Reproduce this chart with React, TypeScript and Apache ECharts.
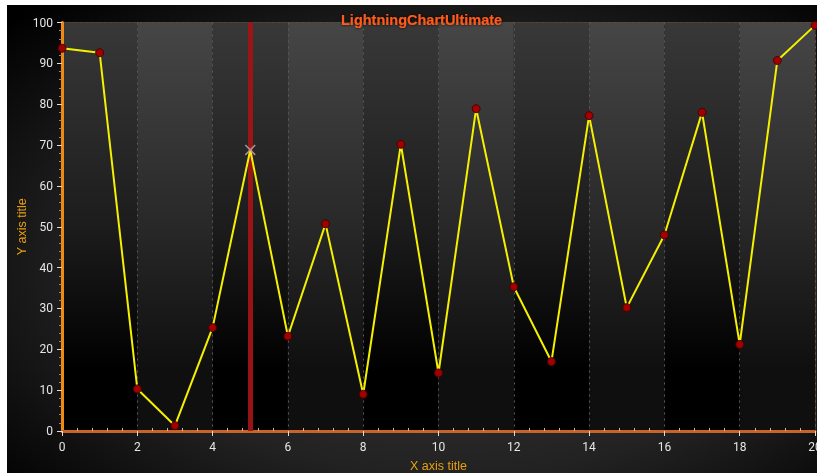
import React, { useEffect, useRef } from "react";
import * as echarts from "echarts";

const titleText = "LightningChartUltimate";
const xAxisTitle = "X axis title";
const yAxisTitle = "Y axis title";
const xValues = [0, 1, 2, 3, 4, 5, 6, 7, 8, 9, 10, 11, 12, 13, 14, 15, 16, 17, 18, 19, 20];
const yValues = [93.7, 92.6, 10.3, 1.3, 25.3, 68.8, 23.2, 50.7, 9.0, 70.2, 14.2, 78.9, 35.3, 17.0, 77.2, 30.2, 48.0, 78.0, 21.2, 90.7, 99.3];
const cursorX = 5;
const cursorIndex = 5;

export default function App() {
  const ref = useRef<HTMLDivElement>(null);
  useEffect(() => {
    document.body.style.overflow = "hidden";
    const chart = echarts.init(ref.current!, null, { renderer: "svg" });
    const bandA = new echarts.graphic.LinearGradient(0, 0, 0, 1, [
      { offset: 0, color: "#383838" },
      { offset: 0.5, color: "#1c1c1c" },
      { offset: 0.85, color: "#000000" },
      { offset: 1, color: "#000000" },
    ]);
    const bandB = new echarts.graphic.LinearGradient(0, 0, 0, 1, [
      { offset: 0, color: "#464646" },
      { offset: 0.5, color: "#282828" },
      { offset: 0.85, color: "#0f0f0f" },
      { offset: 1, color: "#0f0f0f" },
    ]);
    const lineData = xValues.map((x, i) =>
      i === cursorIndex ? { value: [x, yValues[i]], symbol: "none" } : [x, yValues[i]]
    );
    chart.setOption({
      animation: false,
      backgroundColor: new echarts.graphic.RadialGradient(0.55, 0.55, 0.75, [
        { offset: 0, color: "#3c3c3c" },
        { offset: 0.6, color: "#222222" },
        { offset: 1, color: "#000000" },
      ]),
      title: {
        text: titleText,
        left: 329,
        top: 2,
        textStyle: {
          color: "#ff5a1a",
          fontSize: 14.5,
          fontWeight: "bold",
          fontFamily: "Liberation Sans, Arial, sans-serif",
          textShadowColor: "#000",
          textShadowBlur: 3,
        },
      },
      grid: {
        left: 55,
        right: 2,
        top: 17.5,
        bottom: 42,
        outerBoundsMode: "none",
        containLabel: false,
        show: true,
        borderColor: "#6a4422",
        borderWidth: 1,
        backgroundColor: "transparent",
      },
      xAxis: {
        type: "value",
        min: 0,
        max: 20,
        interval: 2,
        name: xAxisTitle,
        nameLocation: "middle",
        nameGap: 28,
        nameMoveOverlap: false,
        nameTextStyle: { color: "#e8a010", fontSize: 12.5, fontFamily: "Liberation Sans, Arial, sans-serif" },
        axisLine: { lineStyle: { color: "#c8642a", width: 3 } },
        axisTick: { show: true, length: 5, lineStyle: { color: "#dddddd", width: 1 } },
        minorTick: { show: true, splitNumber: 5, length: -3, lineStyle: { color: "#e8b090", width: 1 } },
        axisLabel: { color: "#e6e6e6", fontSize: 12, margin: 10, fontFamily: "Roboto, sans-serif" },
        splitLine: { show: true, lineStyle: { color: "#5a5a5a", type: [2, 4], width: 1 } },
        splitArea: { show: true, areaStyle: { color: [bandA, bandB] } },
      },
      yAxis: {
        type: "value",
        min: 0,
        max: 100,
        interval: 10,
        name: yAxisTitle,
        nameLocation: "middle",
        nameGap: 34,
        nameMoveOverlap: false,
        nameTextStyle: { color: "#e8a010", fontSize: 12.5, fontFamily: "Liberation Sans, Arial, sans-serif" },
        axisLine: { show: true, lineStyle: { color: "#f08a10", width: 3 } },
        axisTick: { show: true, length: 5, lineStyle: { color: "#dddddd", width: 1 } },
        minorTick: { show: true, splitNumber: 5, length: 3, lineStyle: { color: "#b08060", width: 1 } },
        axisLabel: { color: "#e6e6e6", fontSize: 12, margin: 9, fontFamily: "Roboto, sans-serif" },
        splitLine: { show: true, lineStyle: { color: "#5a5a5a", type: [2, 4], width: 1 } },
      },
      series: [
        {
          type: "line",
          data: lineData,
          symbol: "circle",
          symbolSize: 8,
          lineStyle: { color: "#f5f000", width: 2 },
          itemStyle: { color: "#a00000", borderColor: "#4a0000", borderWidth: 1 },
          markLine: {
            silent: true,
            symbol: ["none", "none"],
            label: { show: false },
            lineStyle: { color: "#a01414", width: 5, type: "solid", opacity: 0.95 },
            data: [{ xAxis: cursorX }],
            z: 1,
          },
          z: 3,
        },
        {
          type: "scatter",
          data: [[xValues[cursorIndex], yValues[cursorIndex]]],
          symbol: "path://M0,1 L1,0 L5,4 L9,0 L10,1 L6,5 L10,9 L9,10 L5,6 L1,10 L0,9 L4,5Z",
          symbolSize: 11,
          itemStyle: { color: "#b0a0a0", opacity: 0.9 },
          z: 5,
        },
      ],
    });
    return () => chart.dispose();
  }, []);
  return (
    <div
      ref={ref}
      style={{ position: "fixed", left: 7, top: 5, width: 810, height: 468 }}
    />
  );
}
